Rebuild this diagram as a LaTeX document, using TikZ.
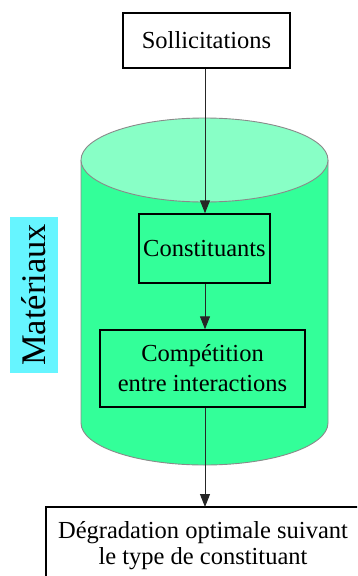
\documentclass[tikz,border=0pt]{standalone}
\usepackage{fontspec}
\setmainfont{Liberation Serif}
\usetikzlibrary{arrows.meta}
\definecolor{bodygreen}{HTML}{33FF99}
\definecolor{topgreen}{HTML}{88FFC6}
\definecolor{labcyan}{HTML}{66F5FF}
\definecolor{rimgray}{HTML}{8A8A8A}
\tikzset{
  boxnode/.style={draw=black, line width=1.4pt, inner sep=0pt, align=center,
    font=\fontsize{24.5}{29}\selectfont},
  flow/.style={draw=black!85, line width=1pt, -{Triangle[length=13pt,width=10pt]}},
}
\begin{document}
\begin{tikzpicture}[x=1pt,y=-1pt]
\useasboundingbox (0,0) rectangle (357,576);
\clip (0,0) rectangle (357,576);
% cylinder
\fill[bodygreen] (81,160) -- (81,423) arc[start angle=180,end angle=0,x radius=123.5,y radius=42] -- (328,160) -- cycle;
\draw[rimgray, line width=0.9pt] (81,160) -- (81,423) arc[start angle=180,end angle=0,x radius=123.5,y radius=42] -- (328,160);
\draw[rimgray, line width=0.9pt, fill=topgreen] (204.5,160) ellipse[x radius=123.5, y radius=42];
% label
\node[fill=labcyan, rotate=90, minimum width=156pt, minimum height=48pt, inner sep=0pt,
  font=\fontsize{34.5}{40}\selectfont] (mat) at (34,295) {Matériaux};
% boxes
\node[boxnode, fill=white, minimum width=167pt, minimum height=55pt] (sol) at (206.5,40.5) {Sollicitations};
\node[boxnode, minimum width=131pt, minimum height=69pt] (con) at (204.5,248.5) {Constituants};
\node[boxnode, minimum width=205pt, minimum height=77pt] (comp) at (202.5,368.5) {Compétition\\[1pt]entre interactions};
\coordinate (degtop) at (204,507);
\draw[line width=1.4pt, fill=white] (46,507) rectangle (362,600);
\node[font=\fontsize{24.5}{29}\selectfont, align=center, anchor=north] (deg) at (203,518) {Dégradation optimale suivant\\[-3pt]le type de constituant};
% connectors
\draw[flow] (sol.south -| 205,0) -- (con.north -| 205,0);
\draw[flow] (con.south -| 205,0) -- (comp.north -| 205,0);
\draw[flow] (comp.south -| 205,0) -- (degtop -| 205,0);
\end{tikzpicture}
\end{document}
